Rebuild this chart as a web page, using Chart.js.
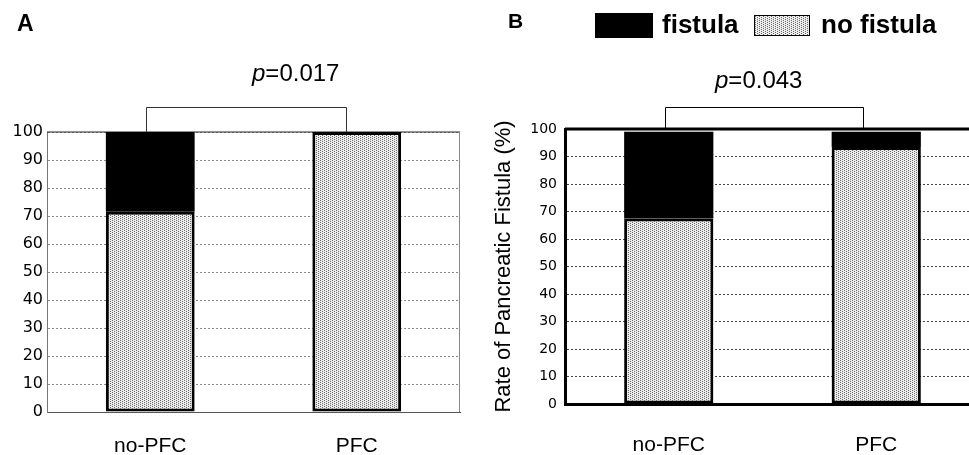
<!DOCTYPE html>
<html><head><meta charset="utf-8">
<script src="https://cdn.jsdelivr.net/npm/chart.js@4.4.1/dist/chart.umd.min.js"></script>
<style>
html,body{margin:0;padding:0;background:#fff;}
body{width:969px;height:455px;overflow:hidden;position:relative;font-family:"Liberation Sans",Arial,sans-serif;}
canvas{position:absolute;top:0;}
#cA{left:0;}
#cB{left:480px;}
.t{position:absolute;line-height:1;white-space:nowrap;color:#000;}
.b{font-weight:bold;}
.sw{position:absolute;box-sizing:border-box;}
</style></head><body>
<canvas id="cA" width="480" height="455"></canvas>
<canvas id="cB" width="500" height="455"></canvas>
<div class="t b" style="left:17px;top:12px;font-size:23px;">A</div>
<div class="t b" style="left:508px;top:10px;font-size:21px;">B</div>
<div class="t" id="pA" style="left:252px;top:61px;font-size:24px;"></div>
<div class="t" id="pB" style="left:715px;top:68px;font-size:24px;"></div>
<div class="sw" id="sw1" style="left:595px;top:13px;width:58px;height:25px;background:#000;"></div>
<div class="t b" id="lg1" style="left:662px;top:11px;font-size:26px;"></div>
<div class="sw" id="sw2" style="left:754px;top:15px;width:56px;height:21px;border:1px solid #000;image-rendering:pixelated;"></div>
<div class="t b" id="lg2" style="left:821px;top:11px;font-size:26px;"></div>
<script>
// ---- data ----
const categories = ['no-PFC', 'PFC'];
const seriesNames = ['fistula', 'no fistula'];
const fistulaA = [28.5, 0];
const noFistulaA = [71.5, 100];
const fistulaB = [31.5, 5.5];
const noFistulaB = [67.5, 93.5];
const pValues = ['0.017', '0.043'];
const yAxisTitleB = 'Rate of Pancreatic Fistula (%)';

// ---- stipple pattern ----
function makeTile(){
  const c = document.createElement('canvas'); c.width = 4; c.height = 2;
  const g = c.getContext('2d');
  g.fillStyle = '#ececec'; g.fillRect(0,0,4,2);
  g.fillStyle = '#6a6a6a'; g.fillRect(0,0,1,1); g.fillRect(2,1,1,1);
  return c;
}
const tile = makeTile();
document.getElementById('sw2').style.backgroundImage = 'url(' + tile.toDataURL() + ')';
document.getElementById('lg1').textContent = seriesNames[0];
document.getElementById('lg2').textContent = seriesNames[1];
document.getElementById('pA').innerHTML = '<i>p</i>=' + pValues[0];
document.getElementById('pB').innerHTML = '<i>p</i>=' + pValues[1];

function framePlugin(o){
  return {
    id: 'frame',
    beforeDatasetsDraw(chart){
      const {ctx, chartArea: a} = chart;
      ctx.save();
      ctx.setLineDash([]);
      ctx.strokeStyle = o.topColor; ctx.lineWidth = o.topWidth;
      ctx.beginPath(); ctx.moveTo(a.left, a.top); ctx.lineTo(a.right, a.top); ctx.stroke();
      if (o.right) {
        ctx.strokeStyle = o.rightColor; ctx.lineWidth = 1;
        ctx.beginPath(); ctx.moveTo(a.right - 0.5, a.top); ctx.lineTo(a.right - 0.5, a.bottom); ctx.stroke();
      }
      ctx.restore();
    },
    afterDraw(chart){
      const {ctx, chartArea: a, scales: {x}} = chart;
      const x0 = Math.round(x.getPixelForValue(0) + o.off0) + 0.5;
      const x1 = Math.round(x.getPixelForValue(1) + o.off1) + 0.5;
      const yb = o.bracketY + 0.5;
      ctx.save();
      ctx.strokeStyle = o.bracketColor; ctx.lineWidth = 1;
      ctx.beginPath();
      ctx.moveTo(x0, a.top); ctx.lineTo(x0, yb); ctx.lineTo(x1, yb); ctx.lineTo(x1, a.top);
      ctx.stroke();
      ctx.restore();
    }
  };
}

function makeChart(id, noF, fis, cfg){
  const ctx = document.getElementById(id).getContext('2d');
  const pattern = ctx.createPattern(tile, 'repeat');
  return new Chart(ctx, {
    type: 'bar',
    data: {
      labels: categories,
      datasets: [
        {label: seriesNames[1], data: noF, backgroundColor: pattern, borderColor: '#000', borderWidth: 3, borderSkipped: false},
        {label: seriesNames[0], data: fis, backgroundColor: '#000', borderColor: '#000', borderWidth: 0}
      ]
    },
    options: {
      responsive: false, animation: false, devicePixelRatio: 1,
      categoryPercentage: 1, barPercentage: 0.43,
      layout: {padding: {top: cfg.top, right: cfg.right, left: 0, bottom: 0}},
      plugins: {legend: {display: false}, tooltip: {enabled: false}, title: {display: false}},
      scales: {
        x: {
          stacked: true,
          grid: {display: false, drawTicks: false},
          border: {display: true, color: cfg.xBorderColor, width: cfg.borderW},
          ticks: {color: '#000', font: {family: 'Liberation Sans', size: 21}, padding: cfg.xPad},
          afterFit(s){ s.height = cfg.xH; }
        },
        y: {
          stacked: true, min: 0, max: 100,
          ticks: {stepSize: 10, color: '#000', font: {family: 'DejaVu Sans', size: cfg.yFont}, padding: cfg.yPad},
          grid: {color: cfg.gridColor, lineWidth: 1, drawTicks: false},
          border: {display: true, color: cfg.yBorderColor, width: cfg.borderW, dash: [2, 2]},
          title: cfg.title ? {display: true, text: cfg.title, color: '#000', font: {family: 'Liberation Sans', size: 22}, padding: {top: 11, bottom: 0}} : {display: false},
          afterFit(s){ s.width = cfg.yW; }
        }
      }
    },
    plugins: [framePlugin(cfg.frame)]
  });
}

makeChart('cA', noFistulaA, fistulaA, {
  top: 132, right: 20, xH: 43, yW: 47, xPad: 22, yPad: 4, yFont: 16,
  gridColor: '#8a8a8a', xBorderColor: '#555', yBorderColor: '#777', borderW: 1,
  frame: {topColor: '#222', topWidth: 1, right: true, rightColor: '#888', off0: -4, off1: -11, bracketY: 107, bracketColor: '#333'}
});
makeChart('cB', noFistulaB, fistulaB, {
  top: 129, right: 0, xH: 51, yW: 85, xPad: 29, yPad: 8, yFont: 14,
  gridColor: '#444', xBorderColor: '#000', yBorderColor: '#000', borderW: 3,
  frame: {topColor: '#000', topWidth: 3, right: false, off0: -4, off1: -13, bracketY: 107, bracketColor: '#000'},
  title: yAxisTitleB
});
</script>
</body></html>
